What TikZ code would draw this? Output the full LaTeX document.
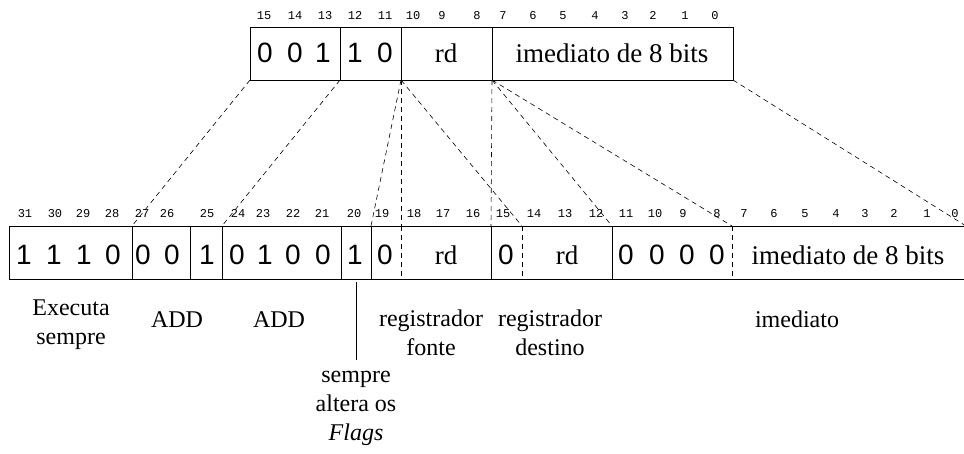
\documentclass[tikz,border=0pt]{standalone}
\usepackage{fontspec}
\setmainfont{Liberation Serif}
\newfontfamily\digitfont{Liberation Sans}
\newfontfamily\bitnofont{Liberation Mono}

\tikzset{
 bitno/.style={font=\bitnofont\fontsize{12}{14}\selectfont,anchor=base,inner sep=0pt},
 bitval/.style={font=\digitfont\fontsize{28}{30}\selectfont,anchor=base,inner sep=0pt},
 fieldtxt/.style={font=\fontsize{27}{30}\selectfont,anchor=base,inner sep=0pt},
 caption/.style={font=\fontsize{24}{29}\selectfont,align=center,inner sep=0pt},
 guide/.style={dash pattern=on 5pt off 4pt,line width=0.6pt},
 frame/.style={line width=0.8pt}
}

\begin{document}
\begin{tikzpicture}[x=1pt,y=-1pt]
 \useasboundingbox (0,0) rectangle (964,453);
 \clip (0,0) rectangle (964,453);
 % Thumb: ADD rd, #imm8
 \begin{scope}
  \draw[frame] (250,27) rectangle (733,80);
  \foreach \x in {340,401,492} \draw[frame] (\x,27) -- (\x,80);
  \foreach \b/\x in {15/264,14/295,13/325,12/355,11/385,10/413,9/442,8/477,
                     7/503,6/533,5/563,4/595,3/625,2/653,1/685,0/715}
   \node[bitno] (t\b) at (\x,19.5) {\b};
  \foreach \d/\x [count=\i] in {0/265,0/295,1/323,1/355,0/385}
   \node[bitval] (tv\i) at (\x,62.5) {\d};
  \node[fieldtxt] (trd) at (446,62.5) {rd};
  \node[fieldtxt] (timm) at (612,62.5) {imediato de 8 bits};
  \coordinate (ta) at (250,80);
  \coordinate (tb) at (340,80);
  \coordinate (tc) at (401,80);
  \coordinate (td) at (492,80);
  \coordinate (te) at (733,80);
 \end{scope}
 % ARM: ADDS rd, rd, #imm8
 \begin{scope}
  \draw[frame] (9,226) rectangle (966,279);
  \foreach \x in {132,190,222,341,371,491,612} \draw[frame] (\x,226) -- (\x,279);
  \foreach \x in {401,522,732} \draw[guide] (\x,226) -- (\x,279);
  \foreach \b/\x in {31/25,30/55,29/83,28/112,27/142,26/167,25/207,24/238,
                     23/263,22/293,21/322,20/354,19/382,18/414,17/443,16/473,
                     15/503,14/534,13/565,12/596,11/626,10/655,9/683,8/717,
                     7/744,6/774,5/805,4/836,3/865,2/894,1/927,0/955}
   \node[bitno] (b\b) at (\x,217) {\b};
  \foreach \d/\x [count=\i] in {1/24,1/54,1/84,0/113,0/143,0/172,1/207,
                                0/237,1/265,0/293,0/323,1/355,0/385,
                                0/506,0/626,0/657,0/687,0/717}
   \node[bitval] (bv\i) at (\x,264.5) {\d};
  \node[fieldtxt] (brn) at (446,264.5) {rd};
  \node[fieldtxt] (brd) at (567,264.5) {rd};
  \node[fieldtxt] (bimm) at (848,264.5) {imediato de 8 bits};
  \coordinate (k27) at (132,226);
  \coordinate (k24) at (222,226);
  \coordinate (k19) at (371,226);
  \coordinate (k18) at (401,226);
  \coordinate (k15) at (491,226);
  \coordinate (k14) at (522,226);
  \coordinate (k11) at (612,226);
  \coordinate (k7) at (732,226);
  \coordinate (kend) at (966,226);
  \coordinate (k20) at (356,282);
 \end{scope}
 % where the fields go
 \draw[guide] (ta) -- (k27);
 \draw[guide] (tb) -- (k24);
 \draw[guide] (tc) -- (k19);
 \draw[guide] (tc) -- (k18);
 \draw[guide] (tc) -- (k14);
 \draw[guide] (td) -- (k15);
 \draw[guide] (td) -- (k11);
 \draw[guide] (td) -- (k7);
 \draw[guide] (te) -- (kend);
 % field names
 \node[caption] (cexe) at (71,325) {Executa\\sempre};
 \node[caption,anchor=base] (cadd1) at (177,327) {ADD};
 \node[caption,anchor=base] (cadd2) at (279,327) {ADD};
 \node[caption] (cflg) at (356,408) {sempre\\altera os\\\textit{Flags}};
 \draw[frame,shorten >=11pt] (k20) -- (cflg.north);
 \node[caption] (csrc) at (431,333) {registrador\\fonte};
 \node[caption] (cdst) at (550,333) {registrador\\destino};
 \node[caption,anchor=base] (cimm) at (797,327) {imediato};
\end{tikzpicture}
\end{document}
